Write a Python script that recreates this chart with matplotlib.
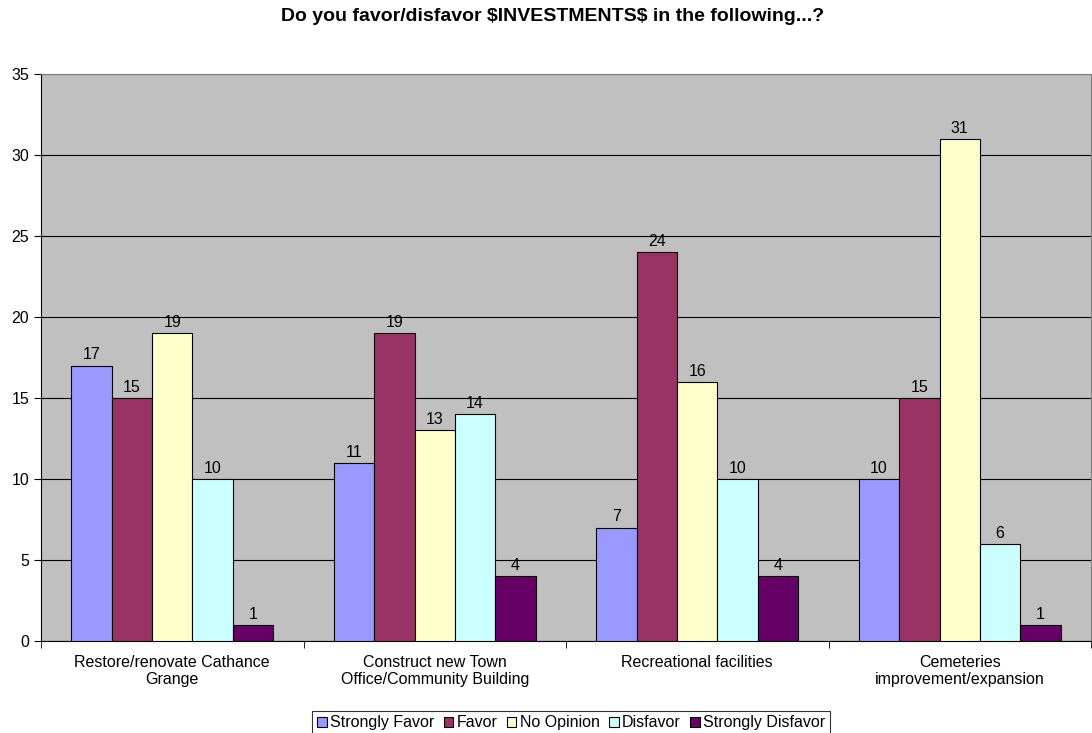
import matplotlib.pyplot as plt
import numpy as np

plt.rcParams['font.family'] = ['Liberation Sans', 'DejaVu Sans']

categories = ['Restore/renovate Cathance\nGrange',
              'Construct new Town\nOffice/Community Building',
              'Recreational facilities',
              'Cemeteries\nimprovement/expansion']
series_names = ['Strongly Favor', 'Favor', 'No Opinion', 'Disfavor', 'Strongly Disfavor']
strongly_favor = [17, 11, 7, 10]
favor = [15, 19, 24, 15]
no_opinion = [19, 13, 16, 31]
disfavor = [10, 14, 10, 6]
strongly_disfavor = [1, 4, 4, 1]
colors = ['#9999FF', '#993366', '#FFFFCC', '#CCFFFF', '#660066']

series = [strongly_favor, favor, no_opinion, disfavor, strongly_disfavor]
fs = 11.5

fig = plt.figure(figsize=(10.92, 7.33), dpi=100)
ax = fig.add_axes([41/1092, 92/733, 1 - 42/1092, 567/733])
ax.set_facecolor('#C0C0C0')

x = np.arange(len(categories))
w = 0.154
for i, (vals, name, c) in enumerate(zip(series, series_names, colors)):
    pos = x + (i - 2) * w
    bars = ax.bar(pos, vals, w, color=c, edgecolor='black', linewidth=0.8, label=name, zorder=3)
    for b, v in zip(bars, vals):
        ax.text(b.get_x() + b.get_width() / 2, v + 0.2, str(v), ha='center', va='bottom', fontsize=fs, zorder=4)

ax.set_xlim(-0.5, len(categories) - 0.5)
ax.set_ylim(0, 35)
ax.set_yticks(range(0, 36, 5))
ax.yaxis.grid(True, color='black', linewidth=0.8, zorder=0)
ax.set_xticks(x)
ax.set_xticklabels(categories, fontsize=fs)
ax.tick_params(axis='x', length=0, pad=10)
ax.tick_params(axis='y', labelsize=fs, length=5, direction='out')
# category separator ticks on the x axis
ax.set_xticks(np.arange(-0.5, len(categories), 1), minor=True)
ax.tick_params(axis='x', which='minor', length=5, direction='out')

ax.spines['left'].set_color('black')
ax.spines['bottom'].set_color('black')
ax.spines['top'].set_color('#808080')
ax.spines['right'].set_color('#808080')

fig.text(0.506, 0.977, r'Do you favor/disfavor \$INVESTMENTS\$ in the following...?',
         ha='center', va='center', fontsize=14, fontweight='bold')

leg = fig.legend(loc='lower center', bbox_to_anchor=(0.523, -0.014), ncol=5, fontsize=fs,
                 frameon=True, fancybox=False, edgecolor='black', handlelength=0.6,
                 handleheight=0.6, handletextpad=0.2, columnspacing=0.6, borderpad=0.3)
leg.get_frame().set_linewidth(0.8)

fig.savefig('out.png', dpi=100)
